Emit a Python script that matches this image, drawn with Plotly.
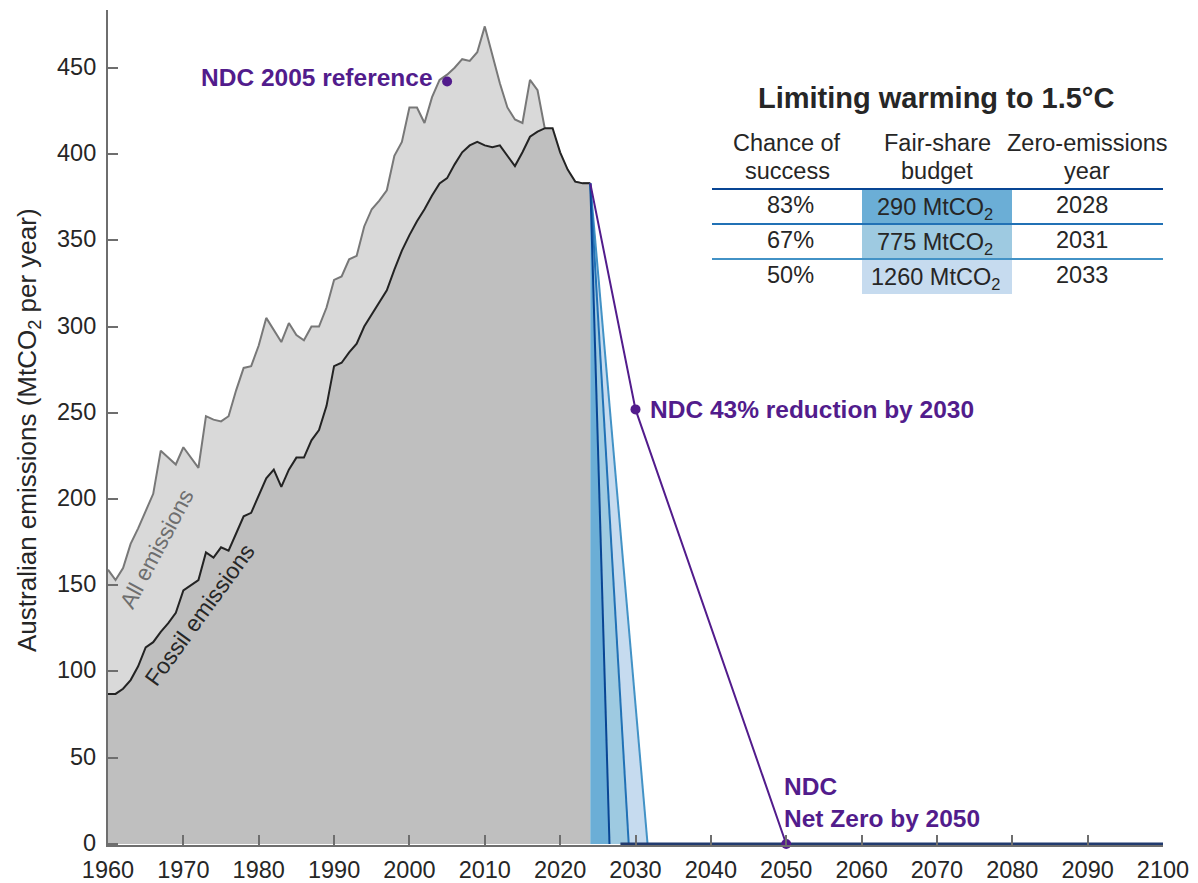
import plotly.graph_objects as go

# ---------------- data ----------------
years = list(range(1960, 2025))

all_emissions = [
    159, 153, 160, 174, 183, 193, 203, 228, 224, 220,
    230, 224, 218, 248, 246, 245, 248, 263, 276, 277,
    289, 305, 298, 291, 302, 295, 292, 300, 300, 311,
    327, 329, 339, 341, 358, 368, 373, 379, 399, 407,
    427, 427, 418, 433, 443, 446, 450, 455, 454, 459,
    474, 458, 441, 427, 420, 418, 443, 437, 414, 405,
    396, 388, 384, 383, 383,
]

fossil_emissions = [
    87, 87, 90, 95, 103, 114, 117, 123, 128, 134,
    147, 150, 153, 169, 166, 172, 170, 180, 190, 192,
    202, 212, 217, 207, 217, 224, 224, 234, 240, 254,
    277, 279, 285, 290, 300, 307, 314, 321, 333, 344,
    353, 361, 368, 376, 383, 386, 394, 401, 405, 407,
    405, 404, 405, 399, 393, 401, 410, 413, 415, 415,
    401, 391, 384, 383, 383,
]

# 1.5 °C pathways: straight decline from the last year to zero
pathway_start_year = 2024
pathway_start_value = 383
pathway_zero_year = [2026.55, 2029.1, 2031.6]
net_zero_line_start = 2028

# table content
table_title = "Limiting warming to 1.5°C"
chance_of_success = ["83%", "67%", "50%"]
budget_mtco2 = [290, 775, 1260]
zero_emissions_year = [2028, 2031, 2033]

# NDC commitments
ndc_ref_year = 2005
ndc_ref_value = 442
ndc_target_year = 2030
ndc_target_cut = 0.43
ndc_net_zero_year = 2050

x_ticks = list(range(1960, 2101, 10))
y_ticks = list(range(0, 451, 50))

# ---------------- styles ----------------
FONT = "Liberation Sans"
TEXT = "rgb(38,38,38)"
AXIS = "rgb(110,110,110)"
PURPLE = "rgb(82,28,140)"
FILL_COLORS = ["rgb(107,174,214)", "rgb(158,202,225)", "rgb(198,219,239)"]
LINE_COLORS = ["rgb(8,69,148)", "rgb(33,113,181)", "rgb(66,146,198)"]
NAVY = "rgb(33,58,110)"

W, H = 1198, 883
L, R, T, B = 108, 1163, 10, 845


def px(x):
    return (x - L) / (R - L)


def py(y):
    return (B - y) / (B - T)


def paper_text(x, y, text, font, **kw):
    """Text placed by pixel position, centred on that point."""
    d = dict(x=px(x), y=py(y), xref="paper", yref="paper", text=text,
             showarrow=False, xanchor="center", yanchor="middle", font=font)
    d.update(kw)
    return d


fig = go.Figure()

# historical emissions
fig.add_trace(go.Scatter(
    x=years, y=all_emissions, mode="lines", fill="tozeroy",
    fillcolor="rgb(217,217,217)", line=dict(color="rgb(120,120,120)", width=2),
    hoverinfo="skip", showlegend=False))
fig.add_trace(go.Scatter(
    x=years, y=fossil_emissions, mode="lines", fill="tozeroy",
    fillcolor="rgb(191,191,191)", line=dict(color="rgb(35,35,35)", width=2),
    hoverinfo="skip", showlegend=False))

# pathway wedges
prev_end = pathway_start_year
for end, fc in zip(pathway_zero_year, FILL_COLORS):
    fig.add_trace(go.Scatter(
        x=[pathway_start_year, end, prev_end, pathway_start_year],
        y=[pathway_start_value, 0, 0, pathway_start_value],
        mode="lines", fill="toself", fillcolor=fc,
        line=dict(width=0), hoverinfo="skip", showlegend=False))
    prev_end = end

for end, lc in zip(reversed(pathway_zero_year), reversed(LINE_COLORS)):
    fig.add_trace(go.Scatter(
        x=[pathway_start_year, end], y=[pathway_start_value, 0],
        mode="lines", line=dict(color=lc, width=2),
        hoverinfo="skip", showlegend=False))

fig.add_trace(go.Scatter(
    x=[net_zero_line_start, x_ticks[-1]], y=[0, 0], mode="lines",
    line=dict(color=NAVY, width=3), hoverinfo="skip", showlegend=False))

# NDC trajectory
ndc_target_value = ndc_ref_value * (1 - ndc_target_cut)
fig.add_trace(go.Scatter(
    x=[pathway_start_year, ndc_target_year, ndc_net_zero_year],
    y=[pathway_start_value, ndc_target_value, 0],
    mode="lines", line=dict(color=PURPLE, width=2),
    hoverinfo="skip", showlegend=False))
fig.add_trace(go.Scatter(
    x=[ndc_ref_year, ndc_target_year, ndc_net_zero_year],
    y=[ndc_ref_value, ndc_target_value, 0],
    mode="markers", marker=dict(color=PURPLE, size=10),
    cliponaxis=False, hoverinfo="skip", showlegend=False))

annotations = []

# y tick labels, set just left of the axis line
tick_font = dict(family=FONT, size=23.5, color=TEXT)
for v in y_ticks:
    annotations.append(dict(
        x=px(98), y=v, xref="paper", yref="y", text=str(v), showarrow=False,
        xanchor="right", yanchor="middle", yshift=1, font=tick_font))

# NDC labels
ndc_font = dict(family=FONT, size=24.5, color=PURPLE)
annotations.append(dict(
    x=ndc_ref_year, y=ndc_ref_value, xref="x", yref="y",
    text="<b>NDC 2005 reference</b>", showarrow=False,
    xanchor="right", yanchor="middle", xshift=-12, yshift=4, font=ndc_font))
annotations.append(dict(
    x=ndc_target_year, y=ndc_target_value, xref="x", yref="y",
    text="<b>NDC 43% reduction by 2030</b>", showarrow=False,
    xanchor="left", yanchor="middle", xshift=12, font=ndc_font))
annotations.append(dict(
    x=ndc_net_zero_year, y=0, xref="x", yref="y",
    text="<b>NDC</b><br><b>Net Zero by 2050</b>", showarrow=False, align="left",
    xanchor="left", yanchor="bottom", xshift=-4, yshift=10, font=ndc_font))

# series labels along the curves
annotations.append(dict(
    x=1966.4, y=171, xref="x", yref="y", text="All emissions",
    showarrow=False, textangle=-62,
    font=dict(family=FONT, size=22.5, color="rgb(110,110,110)")))
annotations.append(dict(
    x=1972.1, y=133, xref="x", yref="y", text="Fossil emissions",
    showarrow=False, textangle=-54,
    font=dict(family=FONT, size=23, color=TEXT)))

# y-axis title
annotations.append(paper_text(
    28, 430, "Australian emissions (MtCO<sub>2</sub> per year)",
    dict(family=FONT, size=26, color=TEXT), textangle=-90))

# ---------------- table ----------------
shapes = []
col_x = [787, 937, 1087]
tfont = dict(family=FONT, size=23.5, color=TEXT)

annotations.append(paper_text(
    936, 98, "<b>" + table_title + "</b>", dict(family=FONT, size=29, color=TEXT)))

headers = [("Chance of", "success"), ("Fair-share", "budget"), ("Zero-emissions", "year")]
for cx, (h1, h2) in zip(col_x, headers):
    annotations.append(paper_text(cx, 143, h1, tfont))
    annotations.append(paper_text(cx, 171, h2, tfont))

row_top = 189
row_h = 35
for i in range(len(chance_of_success)):
    y0 = row_top + i * row_h
    shapes.append(dict(type="rect", xref="paper", yref="paper",
                       x0=px(862), x1=px(1012), y0=py(y0), y1=py(y0 + row_h),
                       fillcolor=FILL_COLORS[i], line=dict(width=0), layer="above"))
for i in range(len(chance_of_success)):
    y0 = row_top + i * row_h
    shapes.append(dict(type="line", xref="paper", yref="paper",
                       x0=px(712), x1=px(1163), y0=py(y0), y1=py(y0),
                       line=dict(color=LINE_COLORS[i], width=2), layer="above"))
    yc = y0 + 16
    annotations.append(paper_text(col_x[0] + 3, yc, chance_of_success[i], tfont))
    annotations.append(paper_text(col_x[1] - 2, yc + 3,
                                  f"{budget_mtco2[i]} MtCO<sub>2</sub>", tfont))
    annotations.append(paper_text(col_x[2] - 5, yc, str(zero_emissions_year[i]), tfont))

fig.update_layout(
    width=W, height=H,
    margin=dict(l=L, r=W - R, t=T, b=H - B, pad=0, autoexpand=False),
    paper_bgcolor="white", plot_bgcolor="white",
    showlegend=False,
    annotations=annotations, shapes=shapes,
    font=dict(family=FONT, color=TEXT),
    xaxis=dict(
        range=[1960, 2100], tickvals=x_ticks, ticks="inside", ticklen=10,
        tickwidth=1.5, tickcolor=AXIS, showline=True, linecolor=AXIS, linewidth=2,
        showgrid=False, zeroline=False, ticklabelstandoff=3, automargin=False,
        tickfont=tick_font),
    yaxis=dict(
        range=[-0.6, 483.5], tickvals=y_ticks, ticks="inside", ticklen=10,
        tickwidth=1.5, tickcolor=AXIS, showline=True, linecolor=AXIS, linewidth=2,
        showgrid=False, zeroline=False, showticklabels=False, automargin=False),
)

fig.write_html("out.html")
